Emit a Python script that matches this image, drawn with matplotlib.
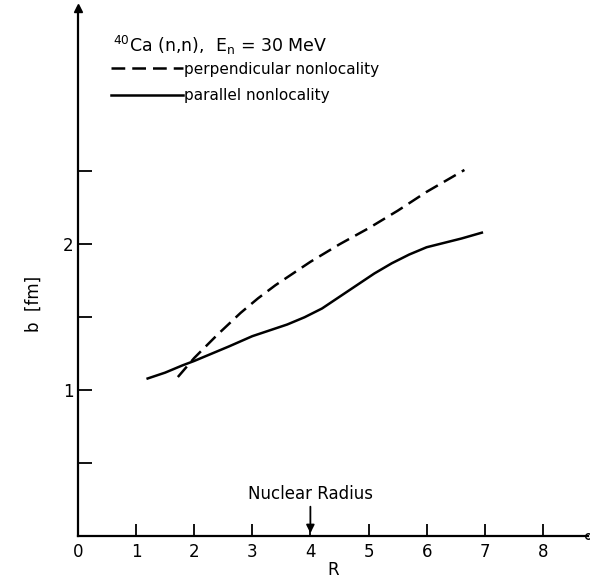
import matplotlib
matplotlib.use("Agg")
import matplotlib.pyplot as plt
from matplotlib.lines import Line2D

# ---- data ----
R_par = [1.2, 1.5, 1.8, 2.0, 2.3, 2.6, 3.0, 3.3, 3.6, 3.9, 4.2, 4.5, 4.8, 5.1, 5.4, 5.7, 6.0, 6.3, 6.6, 6.95]
b_par = [1.08, 1.12, 1.17, 1.20, 1.25, 1.30, 1.37, 1.41, 1.45, 1.50, 1.56, 1.64, 1.72, 1.80, 1.87, 1.93, 1.98, 2.01, 2.04, 2.08]

R_perp = [1.72, 2.0, 2.4, 2.8, 3.1, 3.4, 3.7, 4.0, 4.5, 5.0, 5.5, 6.0, 6.65]
b_perp = [1.09, 1.22, 1.38, 1.53, 1.63, 1.72, 1.80, 1.88, 2.00, 2.11, 2.23, 2.36, 2.51]

x_ticks = [0, 1, 2, 3, 4, 5, 6, 7, 8]
x_ticklabels = ["0", "1", "2", "3", "4", "5", "6", "7", "8"]
y_ticks = [0.5, 1, 1.5, 2, 2.5]
y_ticklabels = ["", "1", "", "2", ""]

title_text = r"$^{40}$Ca (n,n),  E$_\mathrm{n}$ = 30 MeV"
label_perp = "perpendicular nonlocality"
label_par = "parallel nonlocality"
nuclear_radius = 4.0

plt.rcParams['font.family'] = ['DejaVu Sans']

fig = plt.figure(figsize=(5.9, 5.78), dpi=100)
ax = fig.add_axes([0.132, 0.0727, 0.865, 0.9133])

ax.set_xlim(0, 8.78)
ax.set_ylim(0, 3.62)

for s in ['top', 'right']:
    ax.spines[s].set_visible(False)
for s in ['left', 'bottom']:
    ax.spines[s].set_linewidth(1.6)
    ax.spines[s].set_color('black')

ax.plot(R_perp, b_perp, color='black', lw=1.8, linestyle=(0, (5.5, 2.8)))
ax.plot(R_par, b_par, color='black', lw=1.8)

ax.set_xticks(x_ticks)
ax.set_xticklabels(x_ticklabels)
ax.set_yticks(y_ticks)
ax.set_yticklabels(y_ticklabels)
ax.tick_params(axis='x', direction='in', length=9, width=1.3, labelsize=12, pad=5)
ax.tick_params(axis='y', direction='in', length=10, width=1.3, labelsize=12, pad=3)

ax.set_xlabel("R", fontsize=12, labelpad=0)
ax.set_ylabel("b  [fm]", fontsize=12)
ax.yaxis.set_label_coords(-0.068, 0.44)

# axis arrowheads
ax.plot([0], [1], marker='^', markersize=6, color='black', transform=ax.transAxes, clip_on=False)
ax.plot([1], [0], marker='o', markersize=4, markerfacecolor='white', markeredgecolor='black',
        transform=ax.transAxes, clip_on=False)

# title text
ax.text(0.068, 0.93, title_text, transform=ax.transAxes, fontsize=12.5, va='center', ha='left')

# legend lines
handles = [Line2D([], [], color='black', lw=1.8, linestyle=(0, (5.5, 2.8))),
           Line2D([], [], color='black', lw=1.8)]
ax.legend(handles, [label_perp, label_par], loc='upper left', bbox_to_anchor=(0.053, 0.91),
          frameon=False, fontsize=11, handlelength=4.7, handletextpad=0.1, labelspacing=0.75,
          borderaxespad=0)

# nuclear radius annotation
ax.annotate("", xy=(nuclear_radius, 0.0), xytext=(nuclear_radius, 0.22),
            arrowprops=dict(arrowstyle='-|>', color='black', lw=1.3, mutation_scale=12))
ax.text(nuclear_radius, 0.285, "Nuclear Radius", ha='center', va='center', fontsize=12)

fig.savefig("out.png", dpi=100)
